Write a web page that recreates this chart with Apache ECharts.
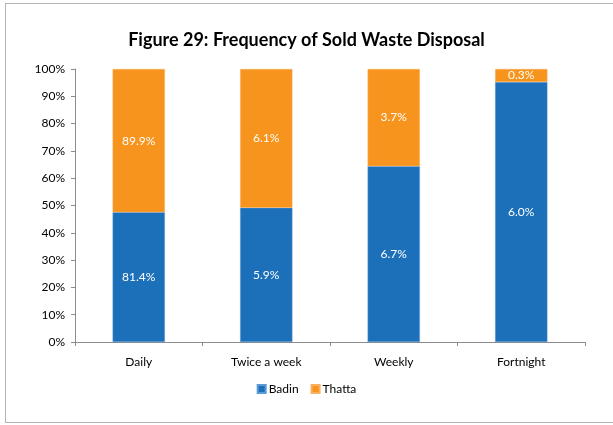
<!DOCTYPE html>
<html>
<head>
<meta charset="utf-8">
<script src="https://cdn.jsdelivr.net/npm/echarts@6/dist/echarts.min.js"></script>
<style>
  html, body { margin: 0; padding: 0; background: #fff; }
  #frame { position: absolute; left: 5px; top: 3px; width: 640px; height: 420px; border: 1px solid #b4b4b4; box-sizing: border-box; }
  #main { position: absolute; left: 0; top: 0; width: 613px; height: 425px; }
</style>
</head>
<body>
<div id="frame"></div>
<div id="main"></div>
<script>
var categories = ['Daily', 'Twice a week', 'Weekly', 'Fortnight'];
var badin = [81.4, 5.9, 6.7, 6.0];
var thatta = [89.9, 6.1, 3.7, 0.3];
var yTicks = ['0%', '10%', '20%', '30%', '40%', '50%', '60%', '70%', '80%', '90%', '100%'];

// 100% stacked: heights are shares, labels show the raw values
function share(a, b) {
  return a.map(function (v, i) { return v / (a[i] + b[i]) * 100; });
}
var badinShare = share(badin, thatta);
var thattaShare = share(thatta, badin);

var font = 'Lato, "Open Sans", sans-serif';
var myChart = echarts.init(document.getElementById('main'));
myChart.setOption({
  animation: false,
  title: {
    text: 'Figure 29: Frequency of Sold Waste Disposal',
    left: 'center', top: 26,
    textStyle: { fontFamily: font, fontSize: 18, fontWeight: 'bold', color: '#000' }
  },
  legend: {
    data: ['Badin', 'Thatta'],
    bottom: 25, left: 'center',
    itemWidth: 8, itemHeight: 8, itemGap: 12,
    icon: 'rect',
    textStyle: { fontFamily: font, fontSize: 12, color: '#000', padding: [0, 0, 0, -2] }
  },
  grid: { left: 75, right: 28, top: 69, bottom: 83 },
  xAxis: {
    type: 'category',
    data: categories,
    axisLine: { lineStyle: { color: '#8c8c8c' } },
    axisTick: { show: true, length: 4, lineStyle: { color: '#8c8c8c' } },
    axisLabel: { fontFamily: font, fontSize: 12, color: '#000', margin: 14 }
  },
  yAxis: {
    type: 'value',
    min: 0, max: 100, interval: 10,
    axisLine: { show: true, lineStyle: { color: '#8c8c8c' } },
    axisTick: { show: true, length: 4, inside: false, lineStyle: { color: '#8c8c8c' } },
    splitLine: { show: false },
    axisLabel: {
      fontFamily: font, fontSize: 12, color: '#000', margin: 10,
      formatter: function (v) { return yTicks[Math.round(v / 10)]; }
    }
  },
  series: [
    {
      name: 'Badin', type: 'bar', stack: 'all', barWidth: '41%',
      data: badinShare,
      itemStyle: { color: '#1c6fb9', borderColor: '#5b9bd5', borderWidth: 0.5 },
      label: {
        show: true, position: 'inside', color: '#fff', fontFamily: font, fontSize: 12,
        formatter: function (p) { return badin[p.dataIndex].toFixed(1) + '%'; }
      }
    },
    {
      name: 'Thatta', type: 'bar', stack: 'all', barWidth: '41%',
      data: thattaShare,
      itemStyle: { color: '#f7941d', borderColor: '#f9b060', borderWidth: 0.5 },
      label: {
        show: true, position: 'inside', color: '#fff', fontFamily: font, fontSize: 12,
        formatter: function (p) { return thatta[p.dataIndex].toFixed(1) + '%'; }
      }
    }
  ]
});
</script>
</body>
</html>
